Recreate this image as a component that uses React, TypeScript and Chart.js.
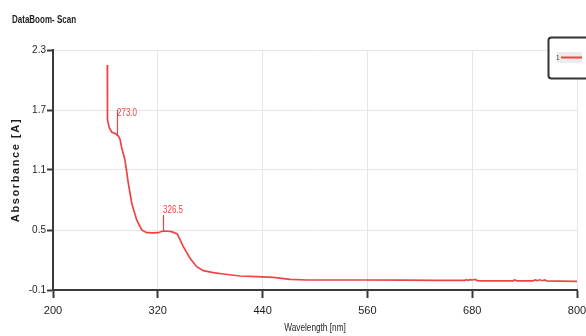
import { useEffect, useRef } from 'react';
import { Chart, registerables } from 'chart.js';

Chart.register(...registerables);

// ---- data ----
const chartTitle = 'DataBoom- Scan';
const seriesLabel = '1';
const xAxisTitle = 'Wavelength [nm]';
const yAxisTitle = 'Absorbance [A]';

const wavelengths = [
  262.2, 262.2, 262.6, 264.5, 267.2, 272.1, 274.8, 276.7, 278.7, 282.4,
  286.2, 290.1, 295.8, 301.6, 307.3, 314.0, 320.6, 324.0, 328.2, 335.9,
  342.3, 349.2, 356.9, 364.5, 372.1, 383.6, 395.0, 414.1, 433.2, 452.3,
  471.4, 490.5, 520.0, 560.0, 600.0, 640.0, 671.8, 673.5, 675.0, 677.5,
  680.0, 683.3, 686.0, 691.2, 700.0, 715.0, 726.7, 728.5, 731.3, 740.0,
  749.6, 752.0, 754.5, 757.6, 760.0, 763.0, 765.6, 780.0, 800.0,
];
const absorbance = [
  2.15, 1.70, 1.60, 1.52, 1.48, 1.46, 1.44, 1.41, 1.32, 1.20,
  0.97, 0.77, 0.60, 0.50, 0.473, 0.472, 0.473, 0.485, 0.49, 0.483,
  0.46, 0.333, 0.217, 0.133, 0.093, 0.073, 0.06, 0.04, 0.033, 0.027,
  0.007, 0.0, 0.0, 0.0, -0.002, -0.003, -0.003, 0.004, -0.004, 0.004,
  0.0, 0.005, -0.006, -0.008, -0.008, -0.008, -0.008, 0.0, -0.008, -0.008,
  -0.008, 0.0, -0.006, 0.002, -0.007, 0.0, -0.01, -0.012, -0.013,
];

const xTicks = [200, 320, 440, 560, 680, 800];
const yTicks = [-0.1, 0.5, 1.1, 1.7, 2.3];

const peakWavelengths = [273.0, 326.5];
const peakAbsorbance = [1.44, 0.49];
const peakLabels = ['273.0', '326.5'];

// ---- styles ----
const SANS = "'Liberation Sans', Arial, sans-serif";
const LINE_COLOR = 'rgba(236, 52, 52, 0.92)';
const AXIS_COLOR = '#3a3a3a';
const GRID_COLOR = '#e6e6e6';
const TEXT_COLOR = '#1e1e1e';
const peakStem = [26, 16];
const peakTextDrop = [8, 0];

function drawText(
  ctx: CanvasRenderingContext2D,
  text: string,
  x: number,
  y: number,
  font: string,
  color: string,
  align: CanvasTextAlign,
  baseline: CanvasTextBaseline,
  sx: number,
  rotate = 0,
  spacing = '0px'
) {
  ctx.save();
  ctx.translate(x, y);
  if (rotate) ctx.rotate(rotate);
  ctx.scale(sx, 1);
  ctx.font = font;
  ctx.fillStyle = color;
  ctx.textAlign = align;
  ctx.textBaseline = baseline;
  (ctx as any).letterSpacing = spacing;
  ctx.fillText(text, 0, 0);
  ctx.restore();
}

const overlayPlugin = {
  id: 'overlay',
  afterDatasetsDraw(chart: any) {
    const { ctx, scales } = chart;
    const xs = scales.x;
    const ys = scales.y;
    ctx.save();
    peakWavelengths.forEach((nm, i) => {
      const px = Math.round(xs.getPixelForValue(nm)) + 0.5;
      const py = ys.getPixelForValue(peakAbsorbance[i]);
      const top = py - peakStem[i];
      ctx.strokeStyle = LINE_COLOR;
      ctx.lineWidth = 1.2;
      ctx.beginPath();
      ctx.moveTo(px, py);
      ctx.lineTo(px, top);
      ctx.stroke();
      drawText(ctx, peakLabels[i], px - 0.5, top + peakTextDrop[i], `10px ${SANS}`, LINE_COLOR, 'left', 'bottom', 0.8);
    });
    ctx.restore();
  },
  afterDraw(chart: any) {
    const { ctx, chartArea } = chart;
    ctx.save();
    // title
    drawText(ctx, chartTitle, 12, 20, `bold 10px ${SANS}`, TEXT_COLOR, 'left', 'middle', 0.8);
    // axis titles
    const cx = (chartArea.left + chartArea.right) / 2;
    const cy = (chartArea.top + chartArea.bottom) / 2;
    drawText(ctx, xAxisTitle, cx, 328, `11px ${SANS}`, TEXT_COLOR, 'center', 'middle', 0.75);
    drawText(ctx, yAxisTitle, 16, cy, `bold 11px ${SANS}`, TEXT_COLOR, 'center', 'middle', 1, -Math.PI / 2, '1.6px');
    // legend box
    const bx = 548.5, by = 37.5, bw = 50, bh = 41;
    ctx.fillStyle = '#ffffff';
    ctx.strokeStyle = '#333333';
    ctx.lineWidth = 2;
    ctx.beginPath();
    (ctx as any).roundRect(bx, by, bw, bh, 3);
    ctx.fill();
    ctx.stroke();
    ctx.fillStyle = '#ececec';
    ctx.fillRect(557, 52, 25, 11);
    ctx.strokeStyle = LINE_COLOR;
    ctx.lineWidth = 2;
    ctx.beginPath();
    ctx.moveTo(561, 57.5);
    ctx.lineTo(582, 57.5);
    ctx.stroke();
    drawText(ctx, seriesLabel, 556, 58, `8px ${SANS}`, '#333333', 'left', 'middle', 0.8);
    ctx.restore();
  },
};

export default function App() {
  const ref = useRef<HTMLCanvasElement | null>(null);
  useEffect(() => {
    document.body.style.margin = '0';
    if (!ref.current) return;
    const points = wavelengths.map((x, i) => ({ x, y: absorbance[i] }));
    const chart = new Chart(ref.current, {
      type: 'line',
      data: {
        datasets: [
          {
            label: seriesLabel,
            data: points,
            borderColor: LINE_COLOR,
            borderWidth: 1.7,
            pointRadius: 0,
            tension: 0,
            fill: false,
          },
        ],
      },
      options: {
        animation: false,
        responsive: false,
        layout: { padding: { left: 0, top: 50, right: 9, bottom: 0 } },
        plugins: {
          legend: { display: false },
          tooltip: { enabled: false },
          title: { display: false },
        },
        scales: {
          x: {
            type: 'linear',
            min: 200,
            max: 800,
            afterBuildTicks: (s: any) => {
              s.ticks = xTicks.map((v) => ({ value: v }));
            },
            afterFit: (s: any) => {
              s.height = 46;
              s.paddingLeft = 0;
              s.paddingRight = 0;
            },
            grid: {
              color: GRID_COLOR,
              lineWidth: 1,
              tickColor: AXIS_COLOR,
              tickLength: 8,
              tickWidth: 2,
            },
            border: { color: AXIS_COLOR, width: 2 },
            ticks: {
              color: TEXT_COLOR,
              font: { family: SANS, size: 11 },
              padding: 6,
              maxRotation: 0,
              callback: (v: any) => String(v),
            },
          },
          y: {
            type: 'linear',
            min: -0.1,
            max: 2.3,
            afterBuildTicks: (s: any) => {
              s.ticks = yTicks.map((v) => ({ value: v }));
            },
            afterFit: (s: any) => {
              s.width = 53;
              s.paddingTop = 0;
              s.paddingBottom = 0;
            },
            grid: {
              color: GRID_COLOR,
              lineWidth: 1,
              tickColor: AXIS_COLOR,
              tickLength: 6,
              tickWidth: 2,
            },
            border: { color: AXIS_COLOR, width: 2 },
            ticks: {
              color: TEXT_COLOR,
              font: { family: SANS, size: 10 },
              padding: 1,
              callback: (v: any) => Number(v).toFixed(1),
            },
          },
        },
      },
      plugins: [overlayPlugin],
    });
    return () => chart.destroy();
  }, []);
  return (
    <div style={{ width: 586, height: 336 }}>
      <canvas ref={ref} width={586} height={336} />
    </div>
  );
}
